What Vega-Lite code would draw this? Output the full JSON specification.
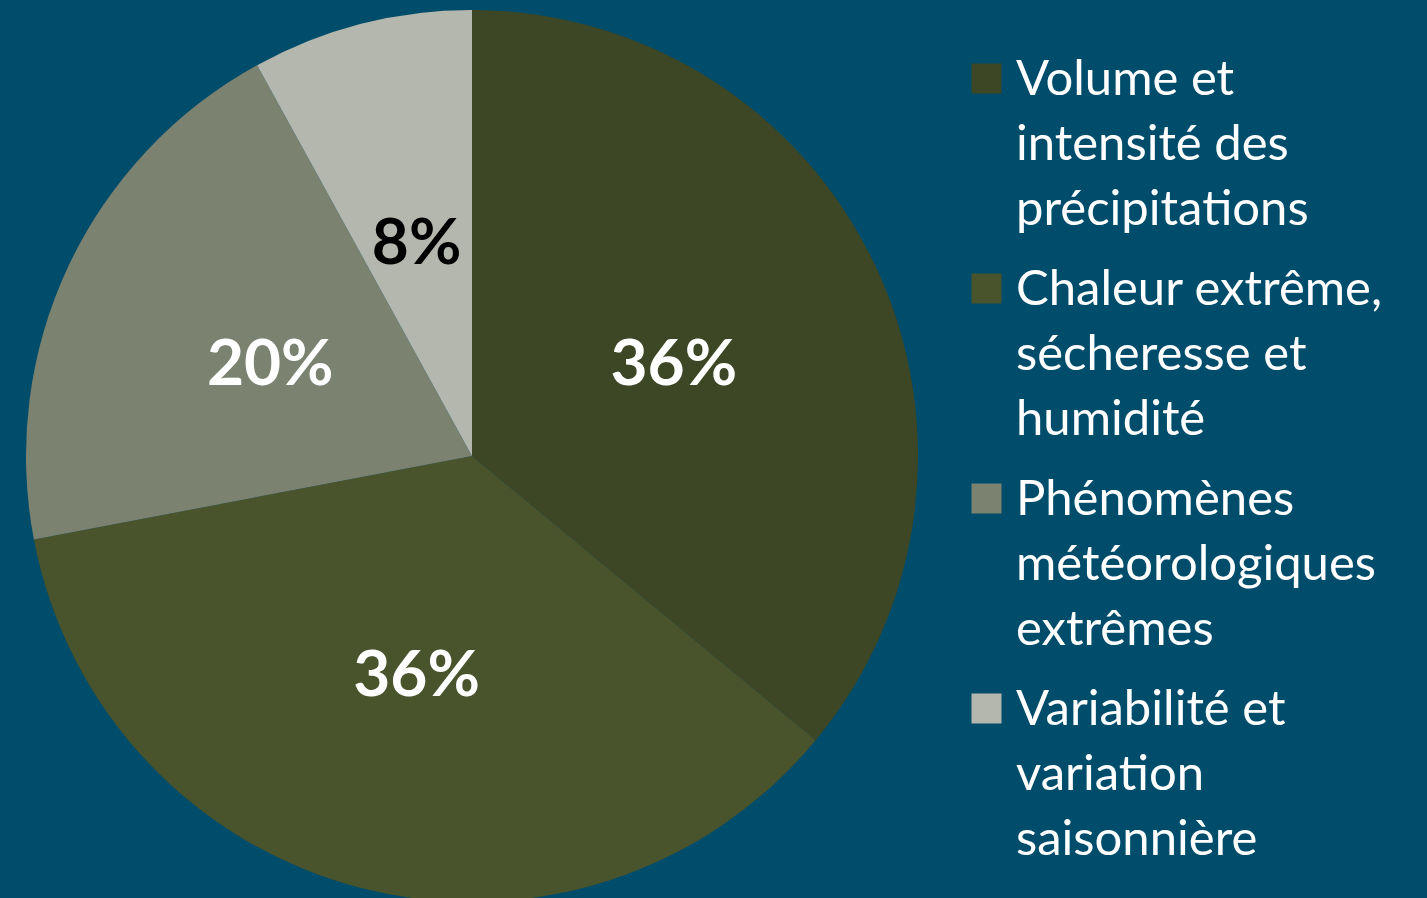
{
  "$schema": "https://vega.github.io/schema/vega-lite/v6.json",
  "autosize": "none",
  "width": 944,
  "height": 884,
  "padding": {"left": 0, "top": 14, "right": 483, "bottom": 0},
  "background": "#004c6b",
  "config": {"view": {"stroke": null}},
  "data": {
    "values": [
      {"categorie": "Volume et intensité des précipitations", "part": 0.36, "ordre": 1},
      {"categorie": "Chaleur extrême, sécheresse et humidité", "part": 0.36, "ordre": 2},
      {"categorie": "Phénomènes météorologiques extrêmes", "part": 0.20, "ordre": 3},
      {"categorie": "Variabilité et variation saisonnière", "part": 0.08, "ordre": 4}
    ]
  },
  "encoding": {
    "theta": {"field": "part", "type": "quantitative", "stack": true},
    "order": {"field": "ordre", "type": "quantitative"}
  },
  "layer": [
    {
      "mark": {"type": "arc", "outerRadius": 446},
      "encoding": {
        "color": {
          "field": "categorie",
          "type": "nominal",
          "scale": {
            "domain": [
              "Volume et intensité des précipitations",
              "Chaleur extrême, sécheresse et humidité",
              "Phénomènes météorologiques extrêmes",
              "Variabilité et variation saisonnière"
            ],
            "range": ["#3d4725", "#49532c", "#7b8270", "#b4b7ae"]
          },
          "legend": {
            "title": null,
            "orient": "none",
            "legendX": 962,
            "legendY": 40,
            "padding": 0,
            "symbolType": "square",
            "symbolSize": 900,
            "symbolStrokeWidth": 0,
            "labelFont": "Lato",
            "labelFontSize": 49,
            "labelColor": "#ffffff",
            "labelLimit": 600,
            "labelOffset": 5,
            "labelBaseline": "alphabetic",
            "rowPadding": 29,
            "labelExpr": "datum.label == 'Volume et intensité des précipitations' ? ['Volume et', 'intensité des', 'précipitations'] : datum.label == 'Chaleur extrême, sécheresse et humidité' ? ['Chaleur extrême,', 'sécheresse et', 'humidité'] : datum.label == 'Phénomènes météorologiques extrêmes' ? ['Phénomènes', 'météorologiques', 'extrêmes'] : ['Variabilité et', 'variation', 'saisonnière']",
            "encode": {
              "labels": {"update": {"dy": {"value": 16}, "lineHeight": {"value": 65}}}
            }
          }
        }
      }
    },
    {
      "mark": {"type": "text", "radius": 223, "font": "Lato", "fontWeight": "bold", "fontSize": 64, "dy": 5},
      "encoding": {
        "text": {"field": "part", "type": "quantitative", "format": ".0%"},
        "color": {
          "condition": {"test": "datum.part < 0.1", "value": "#000000"},
          "value": "#ffffff"
        }
      }
    }
  ]
}
